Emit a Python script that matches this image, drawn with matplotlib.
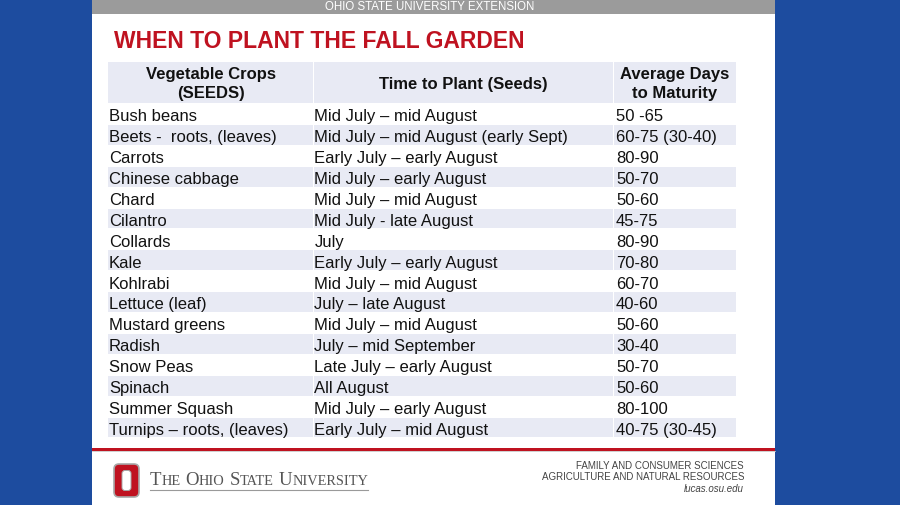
import matplotlib
matplotlib.use("Agg")
import matplotlib.pyplot as plt
from matplotlib.patches import Rectangle, FancyBboxPatch

# ---------------- data ----------------
title = "WHEN TO PLANT THE FALL GARDEN"
banner = "OHIO STATE UNIVERSITY EXTENSION"
headers = ["Vegetable Crops\n(SEEDS)", "Time to Plant (Seeds)", "Average Days\nto Maturity"]
crops = ["Bush beans", "Beets -  roots, (leaves)", "Carrots", "Chinese cabbage", "Chard",
         "Cilantro", "Collards", "Kale", "Kohlrabi", "Lettuce (leaf)", "Mustard greens",
         "Radish", "Snow Peas", "Spinach", "Summer Squash", "Turnips \u2013 roots, (leaves)"]
plant_time = ["Mid July \u2013 mid August", "Mid July \u2013 mid August (early Sept)",
              "Early July \u2013 early August", "Mid July \u2013 early August",
              "Mid July \u2013 mid August", "Mid July - late August", "July",
              "Early July \u2013 early August", "Mid July \u2013 mid August",
              "July \u2013 late August", "Mid July \u2013 mid August", "July \u2013 mid September",
              "Late July \u2013 early August", "All August", "Mid July \u2013 early August",
              "Early July \u2013 mid August"]
days = ["50 -65", "60-75 (30-40)", "80-90", "50-70", "50-60", "45-75", "80-90", "70-80",
        "60-70", "40-60", "50-60", "30-40", "50-70", "50-60", "80-100", "40-75 (30-45)"]
footer_right = ["FAMILY AND CONSUMER SCIENCES", "AGRICULTURE AND NATURAL RESOURCES"]
footer_url = "lucas.osu.edu"
university = ["The", "Ohio", "State", "University"]

# ---------------- style ----------------
BLUE = "#1d4c9f"
RED = "#bf1220"
SHADE = "#e8eaf4"
GREY_BAR = "#9b9b9b"
SANS = "Liberation Sans"
SERIF = "Liberation Serif"

fig = plt.figure(figsize=(9, 5.06), dpi=100)
fig.patch.set_facecolor(BLUE)
ax = fig.add_axes([0, 0, 1, 1])
ax.set_xlim(0, 900)
ax.set_ylim(506, 0)
ax.axis("off")

# slide
ax.add_patch(Rectangle((92, 0), 683, 506, facecolor="white", edgecolor="none"))
ax.add_patch(Rectangle((92, 0), 683, 14.5, facecolor=GREY_BAR, edgecolor="none"))
ax.text(430, 7.3, banner, ha="center", va="center", color="white", fontsize=8.3,
        family=SANS)

ax.text(114, 41, title, ha="left", va="center", color=RED, fontsize=16.5,
        family=SANS, fontweight="bold")

# table geometry
col_edges = [108, 313, 613, 736]
text_off = [1.0, 1.5, 3.0]
head_top, head_bot = 63, 104.5
row_h = (439 - head_bot) / len(crops)
gap = 1.2

for c in range(3):
    x0, x1 = col_edges[c], col_edges[c + 1]
    ax.add_patch(Rectangle((x0 + (gap if c else 0), head_top),
                           x1 - x0 - (gap if c else 0), head_bot - head_top - 1,
                           facecolor=SHADE, edgecolor="none"))
    ax.text((x0 + x1) / 2, (head_top + head_bot) / 2 + 0.5, headers[c], ha="center",
            va="center", fontsize=12, fontweight="bold", family=SANS,
            linespacing=1.3, color="#111111")

cols = [crops, plant_time, days]
for i in range(len(crops)):
    y0 = head_bot + i * row_h
    if i % 2 == 1:
        for c in range(3):
            x0, x1 = col_edges[c], col_edges[c + 1]
            ax.add_patch(Rectangle((x0 + (gap if c else 0), y0 + 0.6),
                                   x1 - x0 - (gap if c else 0), row_h - 1.2,
                                   facecolor=SHADE, edgecolor="none"))
    for c in range(3):
        ax.text(col_edges[c] + text_off[c], y0 + row_h / 2 + 1.8, cols[c][i], ha="left",
                va="center", fontsize=12, family=SANS, color="#111111")

# footer line
ax.add_patch(Rectangle((92, 448.5), 683, 3, facecolor=RED, edgecolor="none"))
ax.plot([92, 775], [452.3, 452.3], color="#c8c8c8", lw=0.6)

# Block O logo
ax.add_patch(FancyBboxPatch((114, 465), 25, 33, boxstyle="round,pad=0,rounding_size=5",
                            facecolor=RED, edgecolor="#a8a8a8", lw=1.2))
ax.add_patch(FancyBboxPatch((122, 471.5), 9, 20, boxstyle="round,pad=0,rounding_size=3",
                            facecolor="white", edgecolor="#a8a8a8", lw=0.7))

# university name in small caps
fig.canvas.draw()
renderer = fig.canvas.get_renderer()
inv = ax.transData.inverted()
x = 150.0
base_y = 485.0
for w in university:
    t1 = ax.text(x, base_y, w[0], ha="left", va="baseline", fontsize=13.5,
                 family=SERIF, color="#555555")
    bb = t1.get_window_extent(renderer)
    x = inv.transform((bb.x1, bb.y0))[0]
    t2 = ax.text(x, base_y, w[1:].upper(), ha="left", va="baseline", fontsize=10.4,
                 family=SERIF, color="#555555")
    bb = t2.get_window_extent(renderer)
    x = inv.transform((bb.x1, bb.y0))[0] + 4.8
ax.plot([150, 368], [490.5, 490.5], color="#9a9a9a", lw=0.8)

for k, s in enumerate(footer_right):
    ax.text(744, 466 + k * 11.5, s, ha="right", va="center", fontsize=7.05,
            family=SANS, color="#444444")
ax.text(744, 489, footer_url, ha="right", va="center", fontsize=7.0, family=SANS,
        style="italic", color="#444444")

fig.savefig("out.png", dpi=100, facecolor=fig.get_facecolor())
